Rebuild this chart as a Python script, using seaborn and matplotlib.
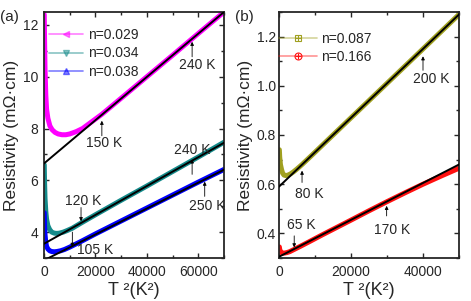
import numpy as np
import pandas as pd
import matplotlib
matplotlib.use('Agg')
import matplotlib.pyplot as plt
from matplotlib.lines import Line2D
from matplotlib.ticker import MultipleLocator
import seaborn as sns

sns.set_style('ticks')
plt.rcParams['font.family'] = ['Liberation Sans', 'DejaVu Sans']

# ---- panel (a): T^2 (K^2) vs resistivity (mOhm cm)
t2_029 = [100, 200, 400, 700, 1000, 1500, 2300, 3200, 4300, 5500, 7000, 8500,
          10000, 12500, 15000, 18000, 22500, 30000, 40000, 50000, 60000, 70000]
rho_029 = [12.4, 11.6, 10.3, 9.3, 8.75, 8.4, 8.1, 7.95, 7.85, 7.79, 7.76, 7.76,
           7.79, 7.88, 8.0, 8.22, 8.55, 9.17, 10.0, 10.83, 11.67, 12.5]

t2_034 = [100, 200, 400, 700, 1000, 1500, 2200, 3000, 4000, 5000, 6000, 7500,
          9000, 11000, 14400, 20000, 30000, 40000, 50000, 60000, 70000]
rho_034 = [6.6, 6.0, 5.3, 4.8, 4.5, 4.25, 4.1, 4.0, 3.96, 3.95, 3.96, 4.0,
           4.06, 4.15, 4.35, 4.67, 5.23, 5.78, 6.34, 6.9, 7.47]

t2_038 = [100, 200, 400, 700, 1000, 1500, 2200, 3000, 4000, 5000, 6500, 8000,
          10000, 12000, 15000, 20000, 30000, 40000, 50000, 60000, 70000]
rho_038 = [4.75, 4.3, 3.9, 3.6, 3.45, 3.35, 3.28, 3.25, 3.24, 3.25, 3.28, 3.33,
           3.42, 3.52, 3.67, 3.93, 4.43, 4.93, 5.43, 5.93, 6.42]

fit_x_a = [0, 70000]
fit_029 = [6.65, 12.5]
fit_034 = [3.55, 7.45]
fit_038 = [2.91, 6.41]

# ---- panel (b)
t2_087 = [100, 200, 400, 700, 1000, 1400, 1900, 2500, 3200, 4000, 5000, 6400,
          9000, 12000, 16000, 20000, 25000, 30000, 35000, 40000, 45000, 50000]
rho_087 = [0.74, 0.71, 0.68, 0.66, 0.645, 0.637, 0.635, 0.637, 0.642, 0.65, 0.662, 0.68,
           0.716, 0.758, 0.814, 0.87, 0.94, 1.01, 1.08, 1.15, 1.22, 1.29]

t2_166 = [100, 200, 400, 700, 1000, 1500, 2200, 3000, 4225, 6000, 8500, 12000,
          16000, 20000, 25000, 30000, 35000, 40000, 45000, 50000]
rho_166 = [0.345, 0.335, 0.327, 0.322, 0.32, 0.32, 0.322, 0.326, 0.335, 0.348, 0.367, 0.394,
           0.424, 0.454, 0.492, 0.529, 0.565, 0.600, 0.633, 0.665]

fit_x_b = [0, 50000]
fit_087 = [0.59, 1.29]
fit_166 = [0.305, 0.68]

# annotations: label, T^2 of arrow, arrow start rho, arrow tip rho, text T^2, text rho
notes_a = [('150 K', 22500, 7.72, 8.3, 23500, 7.46),
           ('240 K', 57600, 10.77, 11.35, 59700, 10.46),
           ('240 K', 57600, 6.23, 6.81, 57500, 7.19),
           ('120 K', 14400, 4.95, 4.42, 15360, 5.2),
           ('105 K', 11025, 4.0, 3.43, 19800, 3.31),
           ('250 K', 62500, 5.38, 5.95, 63600, 5.01)]
notes_b = [('200 K', 40000, 1.063, 1.12, 42360, 1.027),
           ('80 K', 6400, 0.607, 0.655, 8330, 0.56),
           ('65 K', 4225, 0.39, 0.343, 6110, 0.433),
           ('170 K', 29900, 0.471, 0.512, 31530, 0.414)]

c_029, c_034, c_038 = '#ff00ff', '#148a8a', '#0000ff'
c_087, c_166 = '#a0a020', '#ff1010'

fig = plt.figure(figsize=(4.71, 3.01), dpi=100)
ax1 = fig.add_axes([44 / 471, 43 / 301, 180 / 471, 246 / 301])
ax2 = fig.add_axes([279 / 471, 43 / 301, 180 / 471, 246 / 301])


def draw(ax, t2, rho, color):
    sns.lineplot(x=t2, y=rho, ax=ax, color=color, lw=3.6, sort=False, zorder=2)


draw(ax1, t2_029, rho_029, c_029)
draw(ax1, t2_034, rho_034, c_034)
draw(ax1, t2_038, rho_038, c_038)
for f in (fit_029, fit_034, fit_038):
    sns.lineplot(x=fit_x_a, y=f, ax=ax1, color='black', lw=1.4, zorder=3)

draw(ax2, t2_087, rho_087, c_087)
draw(ax2, t2_166, rho_166, c_166)
for f in (fit_087, fit_166):
    sns.lineplot(x=fit_x_b, y=f, ax=ax2, color='black', lw=1.4, zorder=3)


def notes(ax, items):
    for lab, tx, y0, y1, xt, yt in items:
        ax.annotate('', xy=(tx, y1), xytext=(tx, y0),
                    arrowprops=dict(arrowstyle='-|>', color='black', lw=0.6,
                                    mutation_scale=5, shrinkA=0, shrinkB=0), zorder=4)
        ax.text(xt, yt, lab, fontsize=10, ha='center', va='center', zorder=4)


notes(ax1, notes_a)
notes(ax2, notes_b)

ax1.set_xlim(0, 70000)
ax1.set_ylim(3, 12.5)
ax1.xaxis.set_major_locator(MultipleLocator(20000))
ax1.xaxis.set_minor_locator(MultipleLocator(10000))
ax1.yaxis.set_major_locator(MultipleLocator(2))
ax1.yaxis.set_minor_locator(MultipleLocator(1))

ax2.set_xlim(0, 50000)
ax2.set_ylim(0.3, 1.3)
ax2.xaxis.set_major_locator(MultipleLocator(20000))
ax2.xaxis.set_minor_locator(MultipleLocator(10000))
ax2.yaxis.set_major_locator(MultipleLocator(0.2))
ax2.yaxis.set_minor_locator(MultipleLocator(0.1))
ax2.set_yticks([0.4, 0.6, 0.8, 1.0, 1.2])

for ax, ypad in ((ax1, 4), (ax2, 2)):
    for s in ax.spines.values():
        s.set_linewidth(1.3)
        s.set_visible(True)
    ax.tick_params(which='both', direction='in', top=True, right=True, labelsize=10, width=1.0)
    ax.tick_params(which='major', length=3.5)
    ax.tick_params(which='minor', length=2)
    ax.tick_params(axis='y', which='both', pad=ypad)
    ax.tick_params(axis='x', which='both', pad=5)
    ax.set_xlabel('T ²(K²)', fontsize=13, labelpad=2)
    ax.set_ylabel('Resistivity (mΩ·cm)', fontsize=12.5, labelpad=3)

ax2.yaxis.set_major_formatter(matplotlib.ticker.FormatStrFormatter('%.1f'))

# legends
h_a = [Line2D([], [], color=c_029, alpha=0.5, lw=1.2, marker='<', ms=5, mfc=c_029, mec=c_029),
       Line2D([], [], color=c_034, alpha=0.5, lw=1.2, marker='v', ms=5, mfc=c_034, mec=c_034),
       Line2D([], [], color=c_038, alpha=0.5, lw=1.2, marker='^', ms=5, mfc=c_038, mec=c_038)]
ax1.legend(h_a, ['n=0.029', 'n=0.034', 'n=0.038'], loc='upper left',
           bbox_to_anchor=(0.03, 0.935), frameon=False, fontsize=10,
           handlelength=2.4, handletextpad=0.35, labelspacing=0.32,
           borderpad=0, borderaxespad=0)


def boxed(c, m):
    return (Line2D([], [], color=c, alpha=0.45, lw=1.2),
            Line2D([], [], ls='none', marker=m, ms=5, mfc='none', mec=c, mew=0.8),
            Line2D([], [], ls='none', marker='+', ms=5, color=c, mew=0.8))


ax2.legend([boxed(c_087, 's'), boxed(c_166, 'o')], ['n=0.087', 'n=0.166'], loc='upper left',
           bbox_to_anchor=(0.0, 0.92), frameon=False, fontsize=10,
           handlelength=2.7, handletextpad=0.35, labelspacing=0.32,
           borderpad=0, borderaxespad=0)

fig.text(0 / 471, 1 - 17 / 301, '(a)', fontsize=11, va='center', ha='left')
fig.text(235 / 471, 1 - 17 / 301, '(b)', fontsize=11, va='center', ha='left')

fig.savefig('out.png', dpi=100)
